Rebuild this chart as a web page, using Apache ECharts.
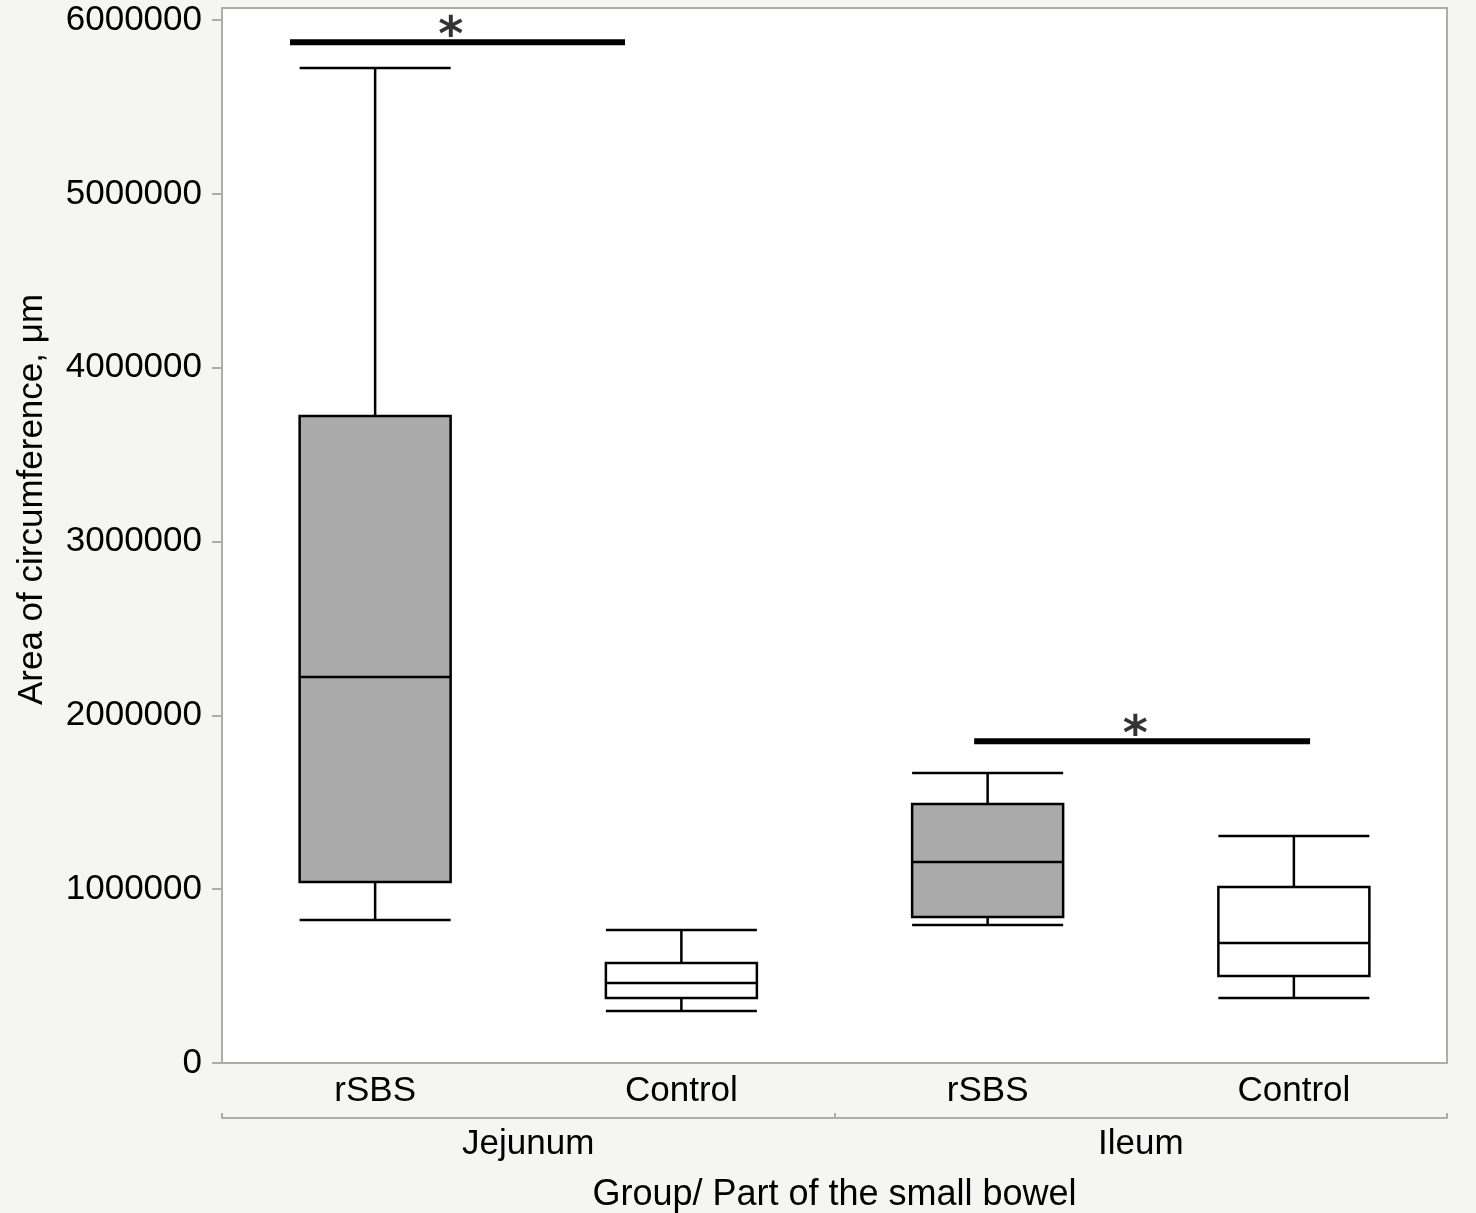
<!DOCTYPE html>
<html><head><meta charset="utf-8">
<script src="https://cdn.jsdelivr.net/npm/echarts@6/dist/echarts.min.js"></script>
<style>html,body{margin:0;padding:0;background:#f5f6f1;}#c{width:1476px;height:1213px;}</style>
</head><body><div id="c"></div>
<script>
// ---- data ----
const groups = ['rSBS', 'Control', 'rSBS', 'Control'];
const parts = ['Jejunum', 'Ileum'];
const isRSBS = [true, false, true, false];
// [lower whisker, Q1, median, Q3, upper whisker]
const jejunumRSBS = [823000, 1041000, 2221000, 3723000, 5725000];
const jejunumControl = [299000, 374000, 460000, 575000, 765000];
const ileumRSBS = [794000, 840000, 1157000, 1490000, 1669000];
const ileumControl = [374000, 501000, 690000, 1013000, 1306000];
const yTicks = [0, 1000000, 2000000, 3000000, 4000000, 5000000, 6000000];
const yMax = 6070000;
// significance bars in category-index units: [xStart, xEnd, y]
const sig1 = [0.222, 1.316, 5873000];
const sig2 = [2.456, 3.553, 1851000];
const sigText = '*';

const FONT = 'Liberation Sans, Arial, sans-serif';
const FS = 35;
const chart = echarts.init(document.getElementById('c'));
const boxes = [jejunumRSBS, jejunumControl, ileumRSBS, ileumControl];
const gray = '#acacac';

function sigSeries(s) {
  return [{
    type: 'line', xAxisIndex: 2, yAxisIndex: 0, silent: true,
    data: [[s[0], s[2]], [s[1], s[2]]], symbol: 'none',
    lineStyle: {color: '#000', width: 6}, z: 5
  }, {
    type: 'scatter', xAxisIndex: 2, yAxisIndex: 0, silent: true,
    data: [[(s[0] + s[1]) / 2 - 0.022, s[2]]], symbolSize: 0,
    label: {show: true, formatter: sigText, position: 'top', distance: -19,
      fontSize: 48, fontWeight: 'bold', color: '#000', fontFamily: 'DejaVu Sans, sans-serif'}, z: 6
  }];
}

chart.setOption({
  backgroundColor: '#f5f6f1',
  animation: false,
  textStyle: {fontFamily: FONT},
  grid: {left: 222, right: 29, top: 8, bottom: 150, show: true, containLabel: false, outerBoundsMode: 'none',
    backgroundColor: '#fff', borderColor: gray, borderWidth: 2},
  xAxis: [{
    type: 'category', data: groups, position: 'bottom',
    axisLine: {show: true, lineStyle: {color: gray, width: 2}},
    axisTick: {show: false},
    axisLabel: {fontSize: FS, color: '#000', margin: 11, fontFamily: FONT}
  }, {
    type: 'category', data: parts, position: 'bottom', offset: 55,
    axisLine: {show: true, lineStyle: {color: gray, width: 2}},
    axisTick: {show: true, inside: true, length: 5, interval: 0, lineStyle: {color: gray, width: 2}},
    axisLabel: {fontSize: FS, color: '#000', margin: 9, fontFamily: FONT},
    name: 'Group/ Part of the small bowel', nameLocation: 'middle', nameGap: 59,
    nameTextStyle: {fontSize: 36, color: '#000', fontFamily: FONT}
  }, {
    type: 'value', min: 0, max: 4, show: false
  }],
  yAxis: {
    type: 'value', min: 0, max: yMax, interval: 1000000,
    axisLine: {show: true, lineStyle: {color: gray, width: 2}},
    axisTick: {show: true, length: 10, customValues: yTicks, lineStyle: {color: gray, width: 2}},
    axisLabel: {fontSize: FS, color: '#000', margin: 20, customValues: yTicks, fontFamily: FONT,
      formatter: v => String(v)},
    splitLine: {show: false},
    name: 'Area of circumference, μm', nameLocation: 'middle', nameGap: 172,
    nameTextStyle: {fontSize: FS, color: '#000', fontFamily: FONT, padding: [0, 0, 0, 72]}
  },
  series: [{
    type: 'boxplot', xAxisIndex: 0, yAxisIndex: 0,
    boxWidth: [151, 151],
    data: boxes.map((b, i) => ({
      value: b,
      itemStyle: {color: isRSBS[i] ? '#aaaaaa' : '#ffffff', borderColor: '#000', borderWidth: 2.5}
    })),
    z: 3
  }].concat(sigSeries(sig1), sigSeries(sig2))
});
</script></body></html>
